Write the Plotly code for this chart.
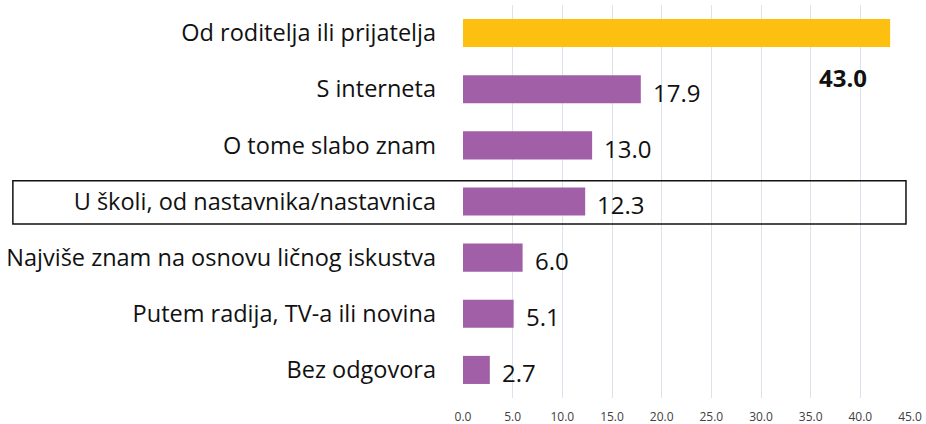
import plotly.graph_objects as go

categories = [
    "Od roditelja ili prijatelja",
    "S interneta",
    "O tome slabo znam",
    "U školi, od nastavnika/nastavnica",
    "Najviše znam na osnovu ličnog iskustva",
    "Putem radija, TV-a ili novina",
    "Bez odgovora",
]
values = [43.0, 17.9, 13.0, 12.3, 6.0, 5.1, 2.7]
highlight_index = 0
boxed_index = 3
tick_vals = [0, 5, 10, 15, 20, 25, 30, 35, 40, 45]
tick_text = ["0.0", "5.0", "10.0", "15.0", "20.0", "25.0", "30.0", "35.0", "40.0", "45.0"]

GOLD = "#FDC010"
PURPLE = "#A05FA7"
colors = [GOLD if i == highlight_index else PURPLE for i in range(len(values))]
FONT = "Open Sans, Lato, sans-serif"

fig = go.Figure()
fig.add_trace(go.Bar(
    x=values,
    y=categories,
    orientation="h",
    marker=dict(color=colors, line=dict(width=0)),
    width=0.5,
    hoverinfo="skip",
))

annotations = []
for i, (c, v) in enumerate(zip(categories, values)):
    if i == highlight_index:
        annotations.append(dict(
            x=v, y=c, xref="x", yref="y", text="<b>%.1f</b>" % v,
            showarrow=False, xanchor="center", yanchor="middle",
            xshift=-47, yshift=-44,
            font=dict(family=FONT, size=24, color="#111111"),
        ))
    else:
        annotations.append(dict(
            x=v, y=c, xref="x", yref="y", text="%.1f" % v,
            showarrow=False, xanchor="left", yanchor="middle",
            xshift=10, yshift=-3,
            font=dict(family=FONT, size=24, color="#111111"),
        ))

n = len(categories)
fig.update_layout(
    width=926, height=424,
    margin=dict(l=463, r=16, t=5, b=26),
    paper_bgcolor="white", plot_bgcolor="white",
    showlegend=False,
    annotations=annotations,
    bargap=0.5,
    xaxis=dict(
        range=[0, 45], tickvals=tick_vals, ticktext=tick_text,
        showgrid=True, gridcolor="#DCE2EC", gridwidth=1,
        zeroline=False, showline=False, ticks="", automargin=False,
        ticklabelstandoff=10,
        tickfont=dict(family="Open Sans, sans-serif", size=12, color="#404040"),
        fixedrange=True,
    ),
    yaxis=dict(
        categoryorder="array", categoryarray=categories,
        range=[n - 0.5, -0.5], autorange=False,
        showgrid=False, zeroline=False,
        showline=False, ticks="", ticklabelstandoff=26, automargin=False,
        tickfont=dict(family=FONT, size=23.5, color="#111111"),
        fixedrange=True,
    ),
    shapes=[dict(
        type="rect", xref="paper", yref="y",
        x0=-1.007, x1=0.991,
        y0=boxed_index - 0.37, y1=boxed_index + 0.40,
        line=dict(color="#111111", width=1.5),
        fillcolor="rgba(0,0,0,0)",
    )],
)

fig.write_html("out.html", config={"displayModeBar": False, "staticPlot": True},
               post_script="document.body.style.margin='0';")
